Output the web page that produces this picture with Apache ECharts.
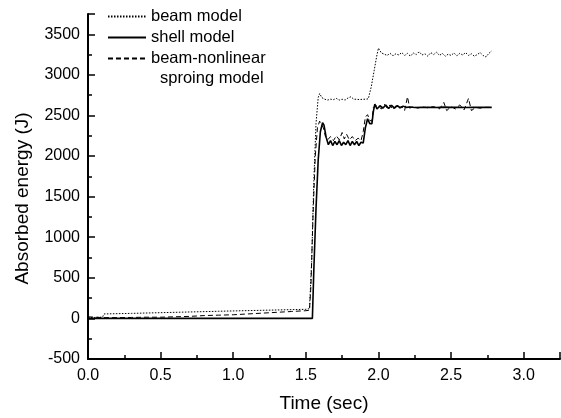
<!DOCTYPE html>
<html><head><meta charset="utf-8">
<script src="https://cdn.jsdelivr.net/npm/echarts@6/dist/echarts.min.js"></script>
<style>html,body{margin:0;padding:0;background:#fff}#c{width:561px;height:418px}</style>
</head><body><div id="c"></div>
<script>
// ---- data ----
const seriesNames = ['beam model', 'shell model', 'beam-nonlinear'];
const legendSecondLine = 'sproing model';

const beamT = [0,0.1,0.11,0.3,0.6,0.9,1.2,1.5,1.525,1.54,1.555,1.57,1.585,1.595,1.61,1.63,1.65,1.67,1.69,1.71,1.73,1.75,1.77,1.79,1.81,1.83,1.85,1.87,1.89,1.91,1.93,1.95,1.97,1.99,2.0,
  2.02,2.04,2.06,2.08,2.10,2.12,2.14,2.16,2.18,2.20,2.22,2.24,2.26,2.28,2.30,2.32,2.34,2.36,2.38,2.40,2.42,2.44,2.46,2.48,2.50,2.52,2.54,2.56,2.58,2.60,2.62,2.64,2.66,2.68,2.70,2.72,2.74,2.76,2.78];
const beamE = [10,15,55,62,75,88,100,112,120,700,1700,2400,2720,2770,2720,2700,2690,2700,2695,2710,2690,2700,2690,2715,2730,2700,2700,2695,2700,2700,2705,2850,3050,3250,3330,
  3270,3255,3240,3265,3235,3260,3245,3275,3240,3265,3230,3270,3250,3285,3245,3260,3230,3275,3250,3280,3240,3265,3230,3255,3240,3270,3235,3265,3245,3275,3240,3260,3230,3250,3275,3240,3220,3265,3295];

const shellT = [0,1.545,1.555,1.57,1.585,1.6,1.615,1.625,1.64,1.655,1.67,1.685,1.70,1.715,1.73,1.745,1.76,1.775,1.79,1.805,1.82,1.835,1.85,1.865,1.88,1.895,1.91,1.925,1.94,1.955,1.965,1.975,1.99,
  2.01,2.03,2.05,2.07,2.09,2.11,2.13,2.15,2.17,2.19,2.22,2.25,2.3,2.35,2.4,2.45,2.5,2.55,2.6,2.65,2.7,2.78];
const shellE = [0,0,600,1350,1950,2300,2410,2380,2230,2140,2190,2130,2180,2140,2190,2130,2170,2140,2190,2130,2180,2140,2180,2130,2170,2160,2350,2460,2400,2400,2550,2640,2580,
  2620,2590,2630,2585,2625,2590,2620,2595,2615,2600,2605,2598,2602,2600,2598,2603,2600,2600,2598,2602,2600,2600];

const nonlinT = [0,0.05,0.1,0.2,0.3,0.4,0.5,0.6,0.7,0.8,0.9,1.0,1.1,1.2,1.3,1.4,1.5,1.525,1.535,1.55,1.565,1.58,1.595,1.605,1.62,1.635,
  1.65,1.67,1.69,1.71,1.73,1.75,1.765,1.78,1.80,1.82,1.84,1.86,1.88,1.895,1.91,1.925,1.94,1.955,1.965,1.98,
  2.0,2.02,2.04,2.06,2.08,2.1,2.12,2.14,2.16,2.18,2.2,2.215,2.24,2.27,2.3,2.34,2.38,2.42,2.45,2.47,2.5,2.53,2.56,2.59,2.62,2.64,2.67,2.7,2.74,2.78];
const nonlinE = [20,15,10,10,12,15,15,20,25,35,40,45,55,65,75,85,95,100,400,1300,2000,2350,2430,2440,2350,2240,
  2200,2240,2190,2250,2200,2290,2210,2270,2200,2240,2190,2220,2190,2300,2480,2510,2440,2430,2600,2620,
  2610,2580,2640,2590,2630,2570,2620,2590,2610,2560,2730,2590,2610,2590,2605,2595,2610,2580,2660,2560,2610,2580,2630,2570,2710,2560,2600,2590,2600,2600];

const xMin = 0, xMax = 3.25, xStep = 0.5;
const yMin = -500, yMax = 3750, yStep = 500;

// ---- chart ----
const zip = (a, b) => a.map((v, i) => [v, b[i]]);
const chart = echarts.init(document.getElementById('c'), null, {renderer: 'canvas'});
const font = 'Arial, "Liberation Sans", sans-serif';
const axisCommon = {
  axisLine: {show: true, onZero: false, lineStyle: {color: '#000', width: 2}},
  axisTick: {show: true, inside: true, length: 7, lineStyle: {color: '#000', width: 1.5}},
  minorTick: {show: true, splitNumber: 2, length: 4, lineStyle: {color: '#000', width: 1.5}},
  splitLine: {show: false},
  minorSplitLine: {show: false},
};
chart.setOption({
  animation: false,
  backgroundColor: '#fff',
  textStyle: {fontFamily: font, color: '#000'},
  grid: {left: 88, right: 1, top: 14, bottom: 57, containLabel: false},
  legend: {
    left: 107, top: 8, padding: 0, orient: 'vertical', itemGap: 4, itemWidth: 38, itemHeight: 14,
    itemStyle: {opacity: 0, borderWidth: 0},
    data: seriesNames, selectedMode: false,
    textStyle: {fontSize: 16.5, color: '#000', fontFamily: font}
  },
  graphic: [{type: 'text', left: 160, top: 70, style: {text: legendSecondLine, fontSize: 16.5, fontFamily: font, fill: '#000'}}],
  xAxis: Object.assign({
    type: 'value', min: xMin, max: xMax, interval: xStep,
    name: 'Time (sec)', nameLocation: 'middle', nameGap: 35,
    nameTextStyle: {fontSize: 19, color: '#000', fontFamily: font},
    axisLabel: {color: '#000', fontSize: 16, margin: 9, showMaxLabel: false, fontFamily: font,
      formatter: v => (Math.abs(v / xStep - Math.round(v / xStep)) < 1e-6 ? v.toFixed(1) : '')}
  }, axisCommon),
  yAxis: Object.assign({
    type: 'value', min: yMin, max: yMax, interval: yStep,
    name: 'Absorbed energy (J)', nameLocation: 'middle', nameGap: 56,
    nameTextStyle: {fontSize: 19, color: '#000', fontFamily: font, padding: [0, 24, 0, 0]},
    axisLabel: {color: '#000', fontSize: 16, margin: 8, showMaxLabel: false, fontFamily: font,
      formatter: v => (v % yStep === 0 ? String(v) : '')}
  }, axisCommon),
  series: [
    {name: seriesNames[0], type: 'line', data: zip(beamT, beamE), symbol: 'none',
     lineStyle: {color: '#000', width: 1, type: [1.5, 1.5]}, itemStyle: {color: '#000'}},
    {name: seriesNames[1], type: 'line', data: zip(shellT, shellE), symbol: 'none',
     lineStyle: {color: '#000', width: 1.6, type: 'solid'}, itemStyle: {color: '#000'}},
    {name: seriesNames[2], type: 'line', data: zip(nonlinT, nonlinE), symbol: 'none',
     lineStyle: {color: '#000', width: 1, type: [5, 3]}, itemStyle: {color: '#000'}}
  ]
});
</script></body></html>
